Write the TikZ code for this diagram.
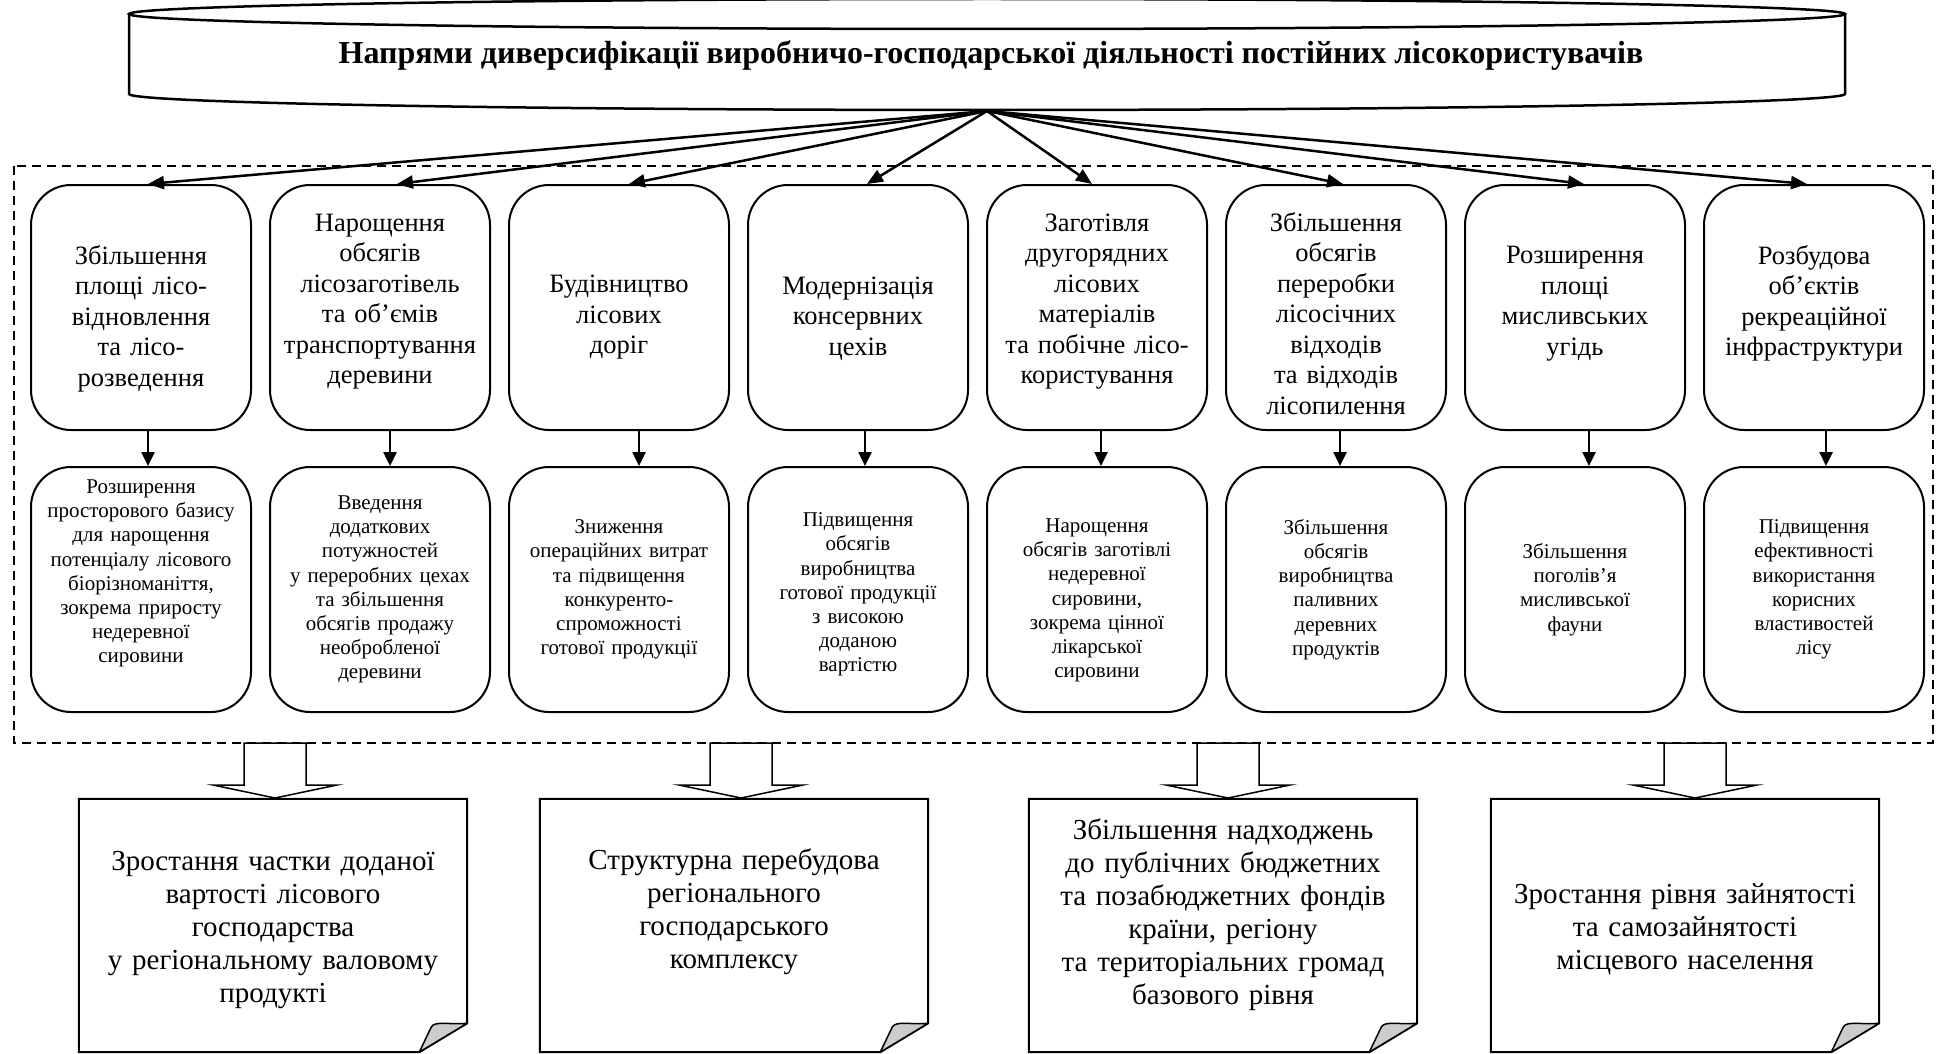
\documentclass[tikz,border=0pt]{standalone}
\usepackage{fontspec}
\setmainfont{Liberation Serif}
\usetikzlibrary{arrows.meta}
\tikzset{
  boxshape/.style={draw, line width=2pt, rounded corners=40pt, minimum width=220pt,
    minimum height=245pt, inner sep=0pt},
  toptext/.style={text width=214pt, inner sep=0pt, align=center,
    font=\fontsize{26.5}{30.5}\selectfont},
  bottext/.style={toptext, font=\fontsize{21}{24.2}\selectfont},
  docbox/.style={minimum width=388pt, minimum height=253pt, inner sep=0pt},
  doctext/.style={text width=380pt, inner sep=0pt, align=center, font=\fontsize{29}{33}\selectfont},
  titletext/.style={inner sep=0pt, font=\fontsize{32}{36}\selectfont\bfseries},
  arr/.style={line width=2.5pt, -{Triangle[length=16pt,width=13pt]}},
  dnarr/.style={line width=2.5pt, -{Triangle[length=14pt,width=13pt]}},
  blk/.style={line width=1.5pt, fill=white, line join=miter},
  docline/.style={line width=2pt},
  foldst/.style={line width=1.5pt, fill=black!20, line join=round},
  frame/.style={line width=1.8pt, dash pattern=on 9pt off 6pt},
  banner/.style={line width=2.5pt},
}
% #1 style, #2 name, #3 x, #4 y, #5 text shift, #6 text
\newcommand\rbox[6]{%
  \node[boxshape] (#2) at (#3,#4) {};
  \node[#1] (#2txt) at ([yshift=#5]#2.center) {#6};}
\newcommand\docframe[1]{%
  \draw[docline] (#1.north west) -- (#1.north east) -- ([yshift=29pt]#1.south east)
    -- ([xshift=-48pt]#1.south east) -- (#1.south west) -- cycle;
  \draw[foldst] ([xshift=-48pt]#1.south east) -- ([xshift=-36pt,yshift=25pt]#1.south east)
    .. controls ([xshift=-33pt,yshift=32pt]#1.south east) and ([xshift=-15pt,yshift=27pt]#1.south east)
    .. ([yshift=29pt]#1.south east) -- cycle;}
\newcommand\bigdown[1]{%
  \draw[blk] (#1) -- ++(-62,-13) -- ++(31,0) -- ++(0,-42) -- ++(62,0) -- ++(0,42) -- ++(31,0) -- cycle;}
\begin{document}
\begin{tikzpicture}[x=1pt,y=-1pt]
\useasboundingbox (0,0) rectangle (1937,1054);

% banner (cylinder)
\draw[banner] (987,14) ellipse [x radius=858pt, y radius=15pt];
\draw[banner] (129,14) -- (129,94) arc[start angle=180, end angle=360, x radius=858pt, y radius=16pt] -- (1845,14);
\node[titletext] (ttl) at (991,56) {Напрями диверсифікації виробничо-господарської діяльності постійних лісокористувачів};
\coordinate (src) at (987,111);

% dashed frame
\draw[frame] (14,166) rectangle (1933,743);

% top boxes
\rbox{toptext}{t1}{141}{307.5}{-11pt}{Збільшення\\площі лісо-\\відновлення\\та лісо-\\розведення}
\rbox{toptext}{t2}{380}{307.5}{6pt}{Нарощення\\обсягів\\лісозаготівель\\та об’ємів\\транспортування\\деревини}
\rbox{toptext}{t3}{619}{307.5}{-10pt}{Будівництво\\лісових\\доріг}
\rbox{toptext}{t4}{858}{307.5}{-11pt}{Модернізація\\консервних\\цехів}
\rbox{toptext}{t5}{1097}{307.5}{6pt}{Заготівля\\другорядних\\лісових\\матеріалів\\та побічне лісо-\\користування}
\rbox{toptext}{t6}{1336}{307.5}{-6pt}{Збільшення\\обсягів\\переробки\\лісосічних\\відходів\\та відходів\\лісопилення}
\rbox{toptext}{t7}{1575}{307.5}{4pt}{Розширення\\площі\\мисливських\\угідь}
\rbox{toptext}{t8}{1814}{307.5}{4pt}{Розбудова\\об’єктів\\рекреаційної\\інфраструктури}

% bottom boxes
\rbox{bottext}{b1}{141}{589.5}{16pt}{Розширення\\просторового базису\\для нарощення\\потенціалу лісового\\біорізноманіття,\\зокрема приросту\\недеревної\\сировини}
\rbox{bottext}{b2}{380}{589.5}{0pt}{Введення\\додаткових\\потужностей\\у переробних цехах\\та збільшення\\обсягів продажу\\необробленої\\деревини}
\rbox{bottext}{b3}{619}{589.5}{0pt}{Зниження\\операційних витрат\\та підвищення\\конкуренто-\\спроможності\\готової продукції}
\rbox{bottext}{b4}{858}{589.5}{-5pt}{Підвищення\\обсягів\\виробництва\\готової продукції\\з високою\\доданою\\вартістю}
\rbox{bottext}{b5}{1097}{589.5}{-11pt}{Нарощення\\обсягів заготівлі\\недеревної\\сировини,\\зокрема цінної\\лікарської\\сировини}
\rbox{bottext}{b6}{1336}{589.5}{0pt}{Збільшення\\обсягів\\виробництва\\паливних\\деревних\\продуктів}
\rbox{bottext}{b7}{1575}{589.5}{0pt}{Збільшення\\поголів’я\\мисливської\\фауни}
\rbox{bottext}{b8}{1814}{589.5}{0pt}{Підвищення\\ефективності\\використання\\корисних\\властивостей\\лісу}

% arrows from banner
\draw[arr] (src) -- ([xshift=7pt]t1.north);
\draw[arr] (src) -- ([xshift=17pt]t2.north);
\draw[arr] (src) -- ([xshift=10pt]t3.north);
\draw[arr] (src) -- ([xshift=9pt]t4.north);
\draw[arr] (src) -- ([xshift=-5pt]t5.north);
\draw[arr] (src) -- ([xshift=7pt]t6.north);
\draw[arr] (src) -- ([xshift=9pt]t7.north);
\draw[arr] (src) -- ([xshift=-7pt]t8.north);

% arrows between rows
\draw[dnarr] ([xshift=7pt]t1.south) -- ([xshift=7pt]b1.north);
\draw[dnarr] ([xshift=10pt]t2.south) -- ([xshift=10pt]b2.north);
\draw[dnarr] ([xshift=20pt]t3.south) -- ([xshift=20pt]b3.north);
\draw[dnarr] ([xshift=7pt]t4.south) -- ([xshift=7pt]b4.north);
\draw[dnarr] ([xshift=4pt]t5.south) -- ([xshift=4pt]b5.north);
\draw[dnarr] ([xshift=4pt]t6.south) -- ([xshift=4pt]b6.north);
\draw[dnarr] ([xshift=14pt]t7.south) -- ([xshift=14pt]b7.north);
\draw[dnarr] ([xshift=12pt]t8.south) -- ([xshift=12pt]b8.north);

% result documents
\node[docbox] (d1) at (273,925.5) {};
\node[docbox] (d2) at (734,925.5) {};
\node[docbox] (d3) at (1223,925.5) {};
\node[docbox] (d4) at (1685,925.5) {};
\docframe{d1}
\docframe{d2}
\docframe{d3}
\docframe{d4}
\node[doctext] (d1txt) at ([yshift=-5pt]d1.center) {Зростання частки доданої\\вартості лісового\\господарства\\у регіональному валовому\\продукті};
\node[doctext] (d2txt) at ([yshift=14pt]d2.center) {Структурна перебудова\\регіонального\\господарського\\комплексу};
\node[doctext] (d3txt) at ([yshift=11pt]d3.center) {Збільшення надходжень\\до публічних бюджетних\\та позабюджетних фондів\\країни, регіону\\та територіальних громад\\базового рівня};
\node[doctext] (d4txt) at ([yshift=-4pt]d4.center) {Зростання рівня зайнятості\\та самозайнятості\\місцевого населення};

% hollow block arrows
\coordinate (a1) at (275,798);
\coordinate (a2) at (741,798);
\coordinate (a3) at (1228,798);
\coordinate (a4) at (1695,798);
\bigdown{a1}
\bigdown{a2}
\bigdown{a3}
\bigdown{a4}
\end{tikzpicture}
\end{document}
